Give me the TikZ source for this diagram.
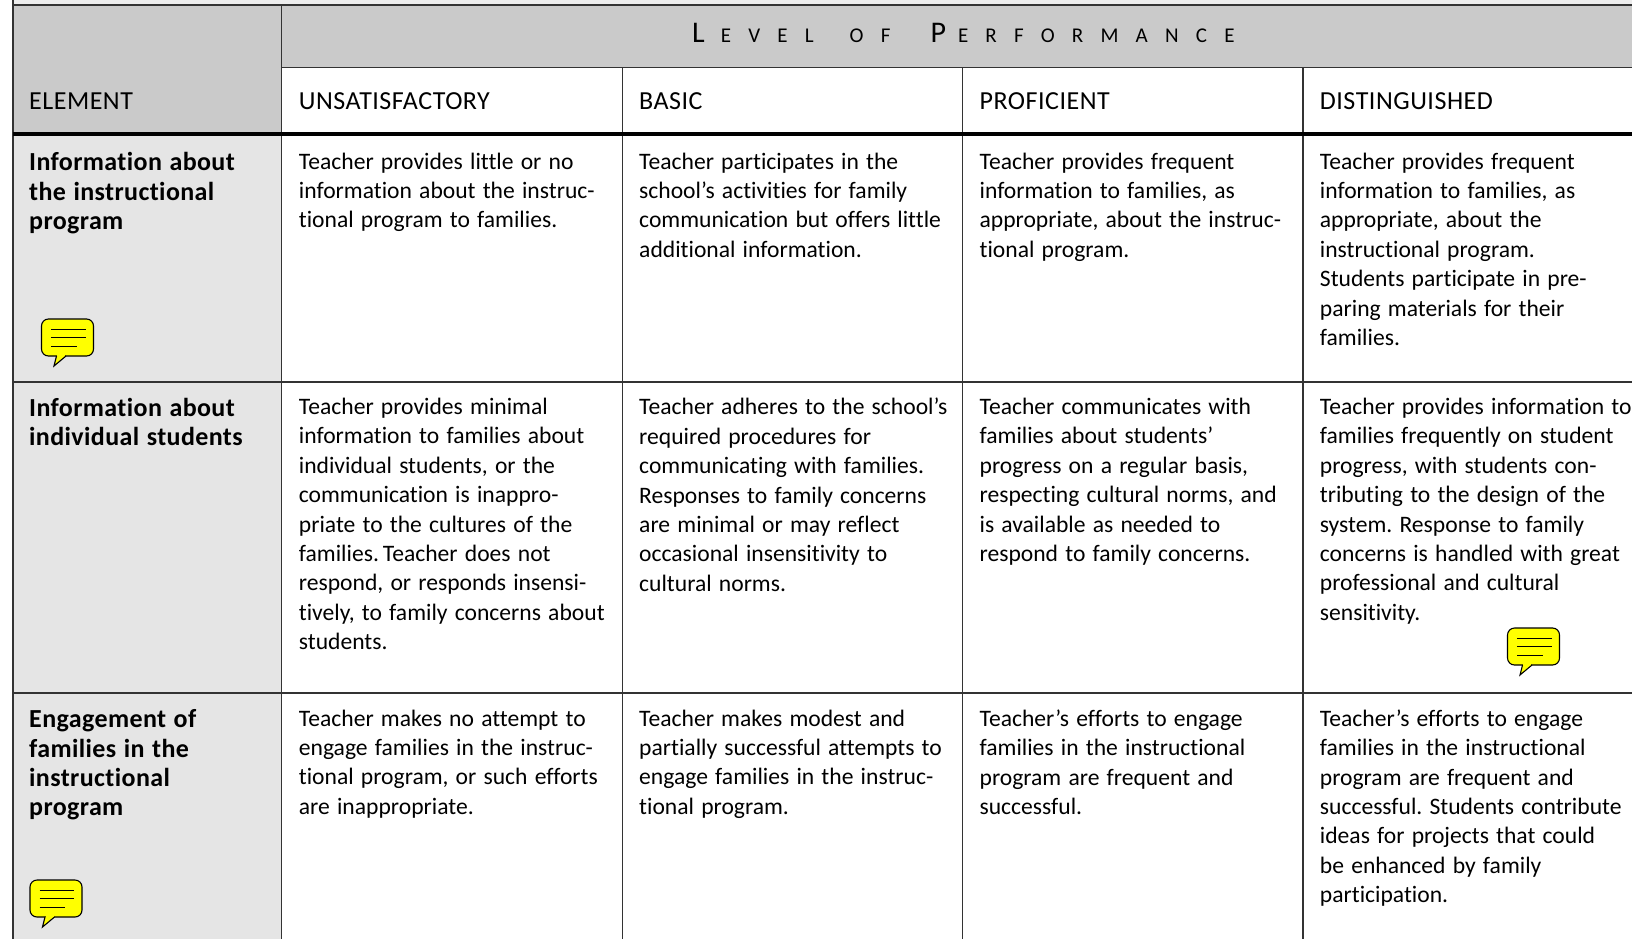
\documentclass[tikz,border=0pt]{standalone}
\usepackage{fontspec}
\setmainfont[Ligatures=NoCommon,WordSpace=1.35]{Carlito}
\newfontfamily\spcfont[LetterSpace=82]{Carlito}
\newfontfamily\spcbig{Carlito}
\newfontfamily\boldfont[LetterSpace=1.5,WordSpace=1.2,Ligatures=NoCommon,UprightFont=*-Bold]{Carlito}
\newfontfamily\headfont[LetterSpace=2,Ligatures=NoCommon]{Carlito}
\definecolor{headgrey}{HTML}{CACACA}
\definecolor{sidegrey}{HTML}{E5E5E5}
\definecolor{rulegrey}{HTML}{333333}
\definecolor{bubble}{HTML}{FFFF00}
\tikzset{
  x=1pt,y=-1pt,
  celltext/.style={anchor=north west,inner sep=0pt,align=left,
    font=\fontsize{23.6}{29.4}\selectfont\frenchspacing,
    execute at begin node={\rule{0pt}{18pt}}},
  sidetext/.style={celltext,font=\boldfont\fontsize{26}{29.4}\selectfont},
  headtext/.style={anchor=base west,inner sep=0pt,font=\headfont\fontsize{26}{29.4}\selectfont},
  gridline/.style={rulegrey,line width=1.5pt},
  speech/.pic={
    \draw[black,line width=1.1pt,fill=bubble,rounded corners=7pt]
      (0,0) rectangle (52,37);
    \draw[black,line width=1.1pt,fill=bubble,line join=miter]
      (15,37) -- (12.5,47) -- (24.5,37);
    \fill[bubble] (15.6,35.5) rectangle (23.8,37);
    \draw[black,line width=0.9pt]
      (9.5,10) -- (44,10) (9.5,18.7) -- (44,18.7) (9.5,27.3) -- (35,27.3);
  }
}
\begin{document}
\begin{tikzpicture}
\useasboundingbox (0,0) rectangle (1632,939);
\fill[white] (0,0) rectangle (1632,939);
\fill[sidegrey!70!white] (13,0) rectangle (1632,5);
\fill[headgrey] (13,5) rectangle (1632,67.5);
\fill[headgrey] (13,5) rectangle (281.5,134);
\fill[sidegrey] (13,134) rectangle (281.5,939);
% grid
\draw[gridline] (13,0) -- (13,939);
\draw[gridline] (13,5) -- (1632,5);
\draw[gridline] (281.5,5) -- (281.5,939);
\draw[gridline] (281.5,67.5) -- (1632,67.5);
\draw[gridline] (622.4,67.5) -- (622.4,939);
\draw[gridline] (962.7,67.5) -- (962.7,939);
\draw[gridline] (1303,67.5) -- (1303,939);
\draw[gridline] (13,382) -- (1632,382);
\draw[gridline] (13,693) -- (1632,693);
\draw[black,line width=3.6pt] (13,134) -- (1632,134);
% header
\newcommand{\bigc}[1]{{\spcbig\fontsize{30}{30}\selectfont #1}}
\newcommand{\smlc}[1]{{\spcfont\fontsize{21}{30}\selectfont #1}}
\node[anchor=base west,inner sep=0pt] (lop) at (692,42.3) {\bigc{L}\hspace{16pt}\smlc{EVEL}\hspace{36pt}\smlc{OF}\hspace{40pt}\bigc{P}\hspace{12pt}\smlc{ERFORMANCE}};
\node[headtext] (hE) at (29,110) {ELEMENT};
\node[headtext] (hU) at (298.7,110) {UNSATISFACTORY};
\node[headtext] (hB) at (639,110) {BASIC};
\node[headtext] (hP) at (979.4,110) {PROFICIENT};
\node[headtext] (hD) at (1319.7,110) {DISTINGUISHED};
% row 1
\node[sidetext] (e1) at (29,152.5) {Information about\\the instructional\\program};
\node[celltext] (u1) at (298.7,152.5) {Teacher provides little or no\\information about the instruc-\\tional program to families.};
\node[celltext] (b1) at (639,152.5) {Teacher participates in the\\school’s activities for family\\communication but offers little\\additional information.};
\node[celltext] (p1) at (979.4,152.5) {Teacher provides frequent\\information to families, as\\appropriate, about the instruc-\\tional program.};
\node[celltext] (d1) at (1319.7,152.5) {Teacher provides frequent\\information to families, as\\appropriate, about the\\instructional program.\\Students participate in pre-\\paring materials for their\\families.};
% row 2
\node[sidetext] (e2) at (29,398) {Information about\\individual students};
\node[celltext] (u2) at (298.7,398) {Teacher provides minimal\\information to families about\\individual students, or the\\communication is inappro-\\priate to the cultures of the\\families.\,Teacher does not\\respond, or responds insensi-\\tively, to family concerns about\\students.};
\node[celltext] (b2) at (639,398) {Teacher adheres to the school’s\\required procedures for\\communicating with families.\\Responses to family concerns\\are minimal or may reflect\\occasional insensitivity to\\cultural norms.};
\node[celltext] (p2) at (979.4,398) {Teacher communicates with\\families about students’\\progress on a regular basis,\\respecting cultural norms, and\\is available as needed to\\respond to family concerns.};
\node[celltext] (d2) at (1319.7,398) {Teacher provides information to\\families frequently on student\\progress, with students con-\\tributing to the design of the\\system. Response to family\\concerns is handled with great\\professional and cultural\\sensitivity.};
% row 3
\node[sidetext] (e3) at (29,709.5) {Engagement of\\families in the\\instructional\\program};
\node[celltext] (u3) at (298.7,709.5) {Teacher makes no attempt to\\engage families in the instruc-\\tional program, or such efforts\\are inappropriate.};
\node[celltext] (b3) at (639,709.5) {Teacher makes modest and\\partially successful attempts to\\engage families in the instruc-\\tional program.};
\node[celltext] (p3) at (979.4,709.5) {Teacher’s efforts to engage\\families in the instructional\\program are frequent and\\successful.};
\node[celltext] (d3) at (1319.7,709.5) {Teacher’s efforts to engage\\families in the instructional\\program are frequent and\\successful. Students contribute\\ideas for projects that could\\be enhanced by family\\participation.};
% speech bubbles
\pic at (41.5,319) {speech};
\pic at (1507.5,628) {speech};
\pic at (30,880) {speech};
\end{tikzpicture}
\end{document}
